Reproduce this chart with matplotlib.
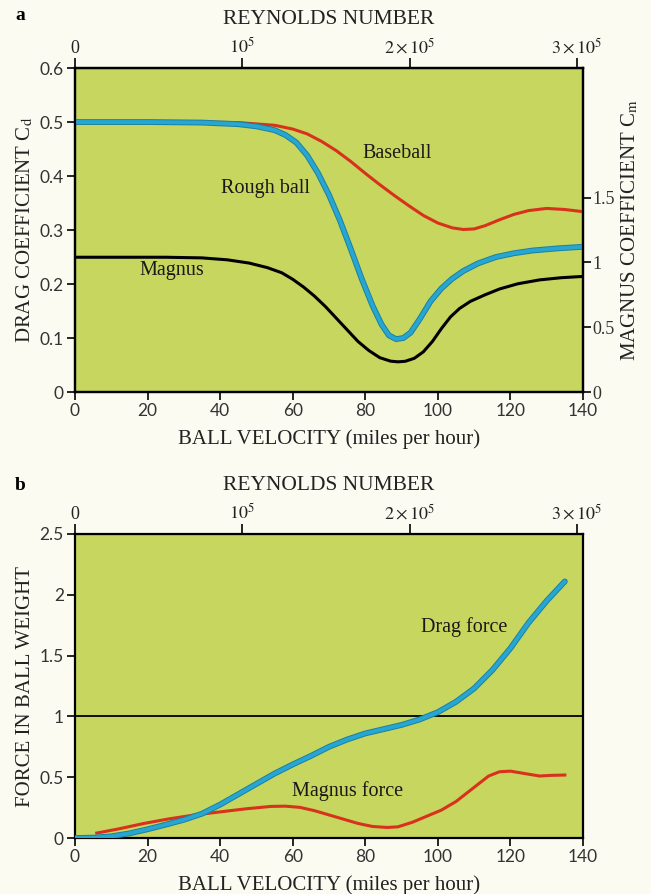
import numpy as np
import matplotlib
matplotlib.use("Agg")
import matplotlib.pyplot as plt

plt.rcParams["font.family"] = ["Liberation Serif", "DejaVu Serif"]
plt.rcParams["mathtext.fontset"] = "stix"

# panel a: drag coefficient vs ball velocity (mph)
rough_v  = [0, 20, 35, 45, 50, 55, 58, 61, 64, 67, 70, 73, 76, 79, 82, 84.5, 86.5, 88.5,
            90.5, 92.5, 95, 98, 101, 104, 107, 111, 116, 121, 126, 133, 140]
rough_cd = [0.50, 0.50, 0.499, 0.496, 0.492, 0.485, 0.476, 0.462, 0.438, 0.405, 0.365,
            0.318, 0.265, 0.21, 0.16, 0.125, 0.105, 0.098, 0.10, 0.11, 0.135, 0.168, 0.192,
            0.21, 0.224, 0.238, 0.25, 0.257, 0.262, 0.266, 0.269]

base_v  = [0, 30, 45, 55, 60, 64, 68, 72, 76, 80, 84, 88, 92, 96, 100, 104, 107, 110, 113,
           117, 121, 125, 130, 135, 140]
base_cd = [0.50, 0.50, 0.499, 0.494, 0.487, 0.478, 0.464, 0.447, 0.427, 0.405, 0.384, 0.364,
           0.345, 0.327, 0.313, 0.304, 0.301, 0.302, 0.308, 0.319, 0.329, 0.336, 0.34, 0.338,
           0.334]

# Magnus coefficient (right axis)
mag_v  = [0, 25, 35, 42, 48, 53, 57, 60, 63, 66, 69, 72, 75, 78, 81, 84, 87, 89, 91, 93.5,
          96, 98.5, 101, 103.5, 106, 109, 113, 117, 122, 128, 134, 140]
mag_cm = [1.04, 1.04, 1.035, 1.02, 0.995, 0.96, 0.92, 0.87, 0.81, 0.74, 0.66, 0.57, 0.48,
          0.39, 0.32, 0.265, 0.238, 0.233, 0.237, 0.26, 0.31, 0.39, 0.49, 0.58, 0.645, 0.70,
          0.75, 0.795, 0.835, 0.865, 0.882, 0.892]

# panel b: forces in units of ball weight
drag_v = [0, 5, 10, 15, 20, 25, 30, 35, 40, 45, 50, 55, 60, 65, 70, 75, 80, 85, 90, 95, 100,
          105, 110, 115, 120, 125, 130, 135]
drag_f = [0, 0.003, 0.014, 0.038, 0.072, 0.11, 0.15, 0.2, 0.275, 0.36, 0.445, 0.53, 0.605,
          0.675, 0.75, 0.81, 0.86, 0.895, 0.93, 0.975, 1.035, 1.12, 1.23, 1.38, 1.56, 1.77,
          1.95, 2.11]

magf_v = [6, 12, 19, 26, 33, 40, 47, 54, 58, 62, 66, 70, 74, 78, 82, 86, 89, 93, 97, 101,
          105, 108, 111, 114, 117, 120, 124, 128, 131, 135]
magf_f = [0.041, 0.075, 0.12, 0.158, 0.19, 0.215, 0.24, 0.26, 0.262, 0.252, 0.225, 0.19,
          0.155, 0.12, 0.095, 0.087, 0.092, 0.13, 0.18, 0.23, 0.30, 0.37, 0.44, 0.51, 0.545,
          0.55, 0.53, 0.51, 0.515, 0.518]

v_ticks = [0, 20, 40, 60, 80, 100, 120, 140]
re_ticks = [0, 1e5, 2e5, 3e5]
re_labels = ["0", r"$10^5$", r"$2\times10^5$", r"$3\times10^5$"]
MPH_PER_1E5 = 46.1

GREEN = "#c6d65e"
RED = "#d8321c"
BLUE = "#27a6d2"
PAGE = "#fbfbf1"
TICKFONT = "Lato"


def v2re(v):
    return np.asarray(v) * 1e5 / MPH_PER_1E5


def re2v(r):
    return np.asarray(r) * MPH_PER_1E5 / 1e5


def style_axes(ax, yticks, ylabels):
    ax.set_facecolor(GREEN)
    ax.set_xlim(0, 140)
    ax.set_xticks(v_ticks)
    ax.set_xticklabels([str(t) for t in v_ticks], family=TICKFONT, fontsize=12.5, color="#333333")
    ax.set_yticks(yticks)
    ax.set_yticklabels(ylabels, family=TICKFONT, fontsize=12.5, color="#333333")
    ax.tick_params(direction="out", length=6, width=1.2, pad=2)
    for s in ax.spines.values():
        s.set_linewidth(1.6)
    ax.set_xlabel("BALL VELOCITY (miles per hour)", fontsize=15, labelpad=7, color="#222222")
    top = ax.secondary_xaxis("top", functions=(v2re, re2v))
    top.set_xticks(re_ticks)
    top.set_xticklabels(re_labels, fontsize=13, color="#222222")
    top.tick_params(direction="out", length=7, width=1.2, pad=1)
    top.set_xlabel("REYNOLDS NUMBER", fontsize=15.5, labelpad=9, color="#222222")
    return top


def blue_line(ax, x, y):
    ax.plot(x, y, color="#1a7fa3", lw=4.2, solid_joinstyle="round",
            solid_capstyle="round", zorder=4)
    ax.plot(x, y, color=BLUE, lw=2.8, solid_joinstyle="round",
            solid_capstyle="round", zorder=5)


fig = plt.figure(figsize=(6.51, 8.94), dpi=100, facecolor=PAGE)

# ---- panel a
ax1 = fig.add_axes([0.1152, 0.5615, 0.7803, 0.3624])
style_axes(ax1, [0, 0.1, 0.2, 0.3, 0.4, 0.5, 0.6],
           ["0", "0.1", "0.2", "0.3", "0.4", "0.5", "0.6"])
ax1.set_ylim(0, 0.6)
ax1.set_ylabel(r"DRAG COEFFICIENT C$_{\rm d}$", fontsize=15, labelpad=3, color="#222222")
ax1.plot(base_v, base_cd, color=RED, lw=2.2, solid_joinstyle="round", zorder=3)
blue_line(ax1, rough_v, rough_cd)

ax1r = ax1.twinx()
ax1r.set_ylim(0, 2.5)
ax1r.plot(mag_v, mag_cm, color="black", lw=2.2, solid_joinstyle="round", zorder=3)
ax1r.set_yticks([0, 0.5, 1, 1.5])
ax1r.set_yticklabels(["0", "0.5", "1", "1.5"], fontsize=13, color="#333333")
ax1r.tick_params(direction="out", length=6, width=1.2, pad=1)
ax1r.set_ylabel(r"MAGNUS COEFFICIENT C$_{\rm m}$", fontsize=15, labelpad=3, color="#222222")
for s in ax1r.spines.values():
    s.set_linewidth(1.6)

ax1.text(88.7, 0.442, "Baseball", fontsize=14.5, ha="center", va="center", color="#1a1a1a")
ax1.text(52.5, 0.377, "Rough ball", fontsize=14.5, ha="center", va="center", color="#1a1a1a")
ax1.text(26.8, 0.225, "Magnus", fontsize=14.5, ha="center", va="center", color="#1a1a1a")

# ---- panel b
ax2 = fig.add_axes([0.1152, 0.0626, 0.7803, 0.3401])
style_axes(ax2, [0, 0.5, 1, 1.5, 2, 2.5], ["0", "0.5", "1", "1.5", "2", "2.5"])
ax2.set_ylim(0, 2.5)
ax2.set_ylabel("FORCE IN BALL WEIGHT", fontsize=15, labelpad=3, color="#222222")
ax2.axhline(1, color="black", lw=1.3, zorder=2)
ax2.plot(magf_v, magf_f, color=RED, lw=2.2, solid_joinstyle="round", zorder=3)
blue_line(ax2, drag_v, drag_f)
ax2.text(107.3, 1.735, "Drag force", fontsize=14.5, ha="center", va="center", color="#1a1a1a")
ax2.text(75.1, 0.387, "Magnus force", fontsize=14.5, ha="center", va="center", color="#1a1a1a")

fig.text(15 / 651, 1 - 15 / 894, "a", fontsize=14, fontweight="bold", va="center")
fig.text(15 / 651, 1 - 486 / 894, "b", fontsize=14, fontweight="bold", va="center")

fig.savefig("out.png", dpi=100, facecolor=PAGE)
